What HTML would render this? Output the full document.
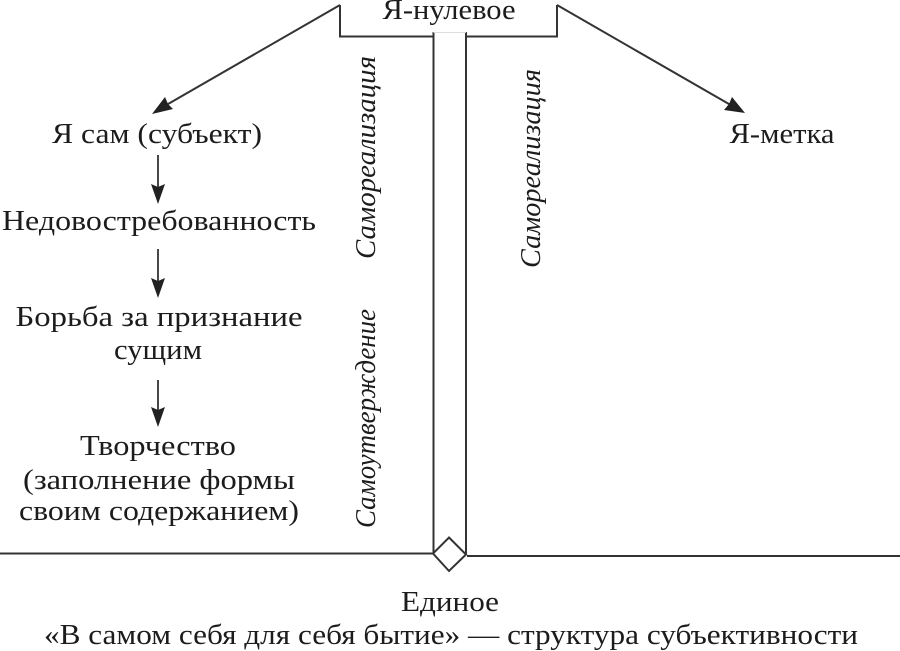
<!DOCTYPE html>
<html><head><meta charset="utf-8"><style>
html,body{margin:0;padding:0;background:#fff}
svg{display:block}
text{font-family:"Liberation Serif","DejaVu Serif",serif;fill:#1c1c1c;font-size:28px}
.i{font-style:italic;font-size:28px}
</style></head><body>
<svg width="900" height="651" viewBox="0 0 900 651" xmlns="http://www.w3.org/2000/svg">
<g fill="none" stroke="#333" stroke-width="2">
<path d="M340 5V36.500H433M466 36.500H557V5"/>
<path d="M433.500 32V553M466 32V554"/>
<path d="M433.500 32.500H466" stroke="#ddd" stroke-width="1"/>
<path d="M0 553.500H433M467 556H900"/>
<path d="M449 537.500L466 554.500L449 571L433 553.500Z"/>
<path d="M340 5L162 107.500M557 5L735 107.500" stroke-width="2"/>
<path d="M158 155V190M158 249V283M158 380V414" stroke-width="1.800"/>
</g>
<g fill="#222">
<path d="M152 114L165 97L168 104L173 109Z"/>
<path d="M745 113L732 97L729 104L724 110Z"/>
<path d="M158 204L151 184L158 187L165 184Z"/>
<path d="M158 298L151 278L158 281L165 278Z"/>
<path d="M158 427L151 407L158 410L165 407Z"/>
</g>
<text x="449" y="19" text-anchor="middle" textLength="133" lengthAdjust="spacingAndGlyphs">Я-нулевое</text>
<text x="157" y="143" text-anchor="middle" textLength="210" lengthAdjust="spacingAndGlyphs">Я сам (субъект)</text>
<text x="159" y="230" text-anchor="middle" textLength="314" lengthAdjust="spacingAndGlyphs">Недовостребованность</text>
<text x="159" y="326" text-anchor="middle" textLength="287" lengthAdjust="spacingAndGlyphs">Борьба за признание</text>
<text x="158" y="359" text-anchor="middle" textLength="88" lengthAdjust="spacingAndGlyphs">сущим</text>
<text x="158" y="455" text-anchor="middle" textLength="156" lengthAdjust="spacingAndGlyphs">Творчество</text>
<text x="159" y="489" text-anchor="middle" textLength="272" lengthAdjust="spacingAndGlyphs">(заполнение формы</text>
<text x="159" y="520" text-anchor="middle" textLength="280" lengthAdjust="spacingAndGlyphs">своим содержанием)</text>
<text x="782" y="143" text-anchor="middle" textLength="105" lengthAdjust="spacingAndGlyphs">Я-метка</text>
<text x="450" y="611" text-anchor="middle" textLength="98" lengthAdjust="spacingAndGlyphs">Единое</text>
<text x="451" y="644" text-anchor="middle" textLength="814" lengthAdjust="spacingAndGlyphs">«В самом себя для себя бытие» — структура субъективности</text>
<text class="i" transform="translate(375 259) rotate(-90)" textLength="203" lengthAdjust="spacingAndGlyphs">Самореализация</text>
<text class="i" transform="translate(540 268) rotate(-90)" textLength="199" lengthAdjust="spacingAndGlyphs">Самореализация</text>
<text class="i" transform="translate(375 528) rotate(-90)" textLength="219" lengthAdjust="spacingAndGlyphs">Самоутверждение</text>
</svg>
</body></html>
